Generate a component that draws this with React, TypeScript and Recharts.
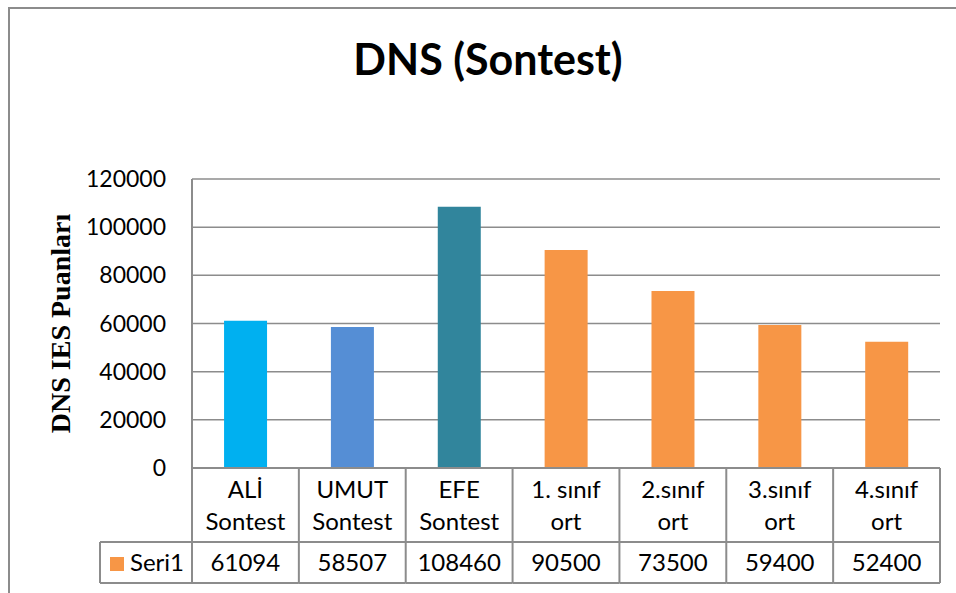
import { BarChart, Bar, XAxis, YAxis, CartesianGrid, Cell, Label } from 'recharts'

const labelTop = ['ALİ', 'UMUT', 'EFE', '1. sınıf', '2.sınıf', '3.sınıf', '4.sınıf']
const labelBottom = ['Sontest', 'Sontest', 'Sontest', 'ort', 'ort', 'ort', 'ort']
const scores = [61094, 58507, 108460, 90500, 73500, 59400, 52400]
const barColors = ['#00B0F0', '#558ED5', '#31859C', '#F79646', '#F79646', '#F79646', '#F79646']
const yTicks = [0, 20000, 40000, 60000, 80000, 100000, 120000]
const seriesName = 'Seri1'
const legendColor = '#F79646'

const data = labelTop.map((name, i) => ({ name, value: scores[i] }))

const W = 956
const H = 593
const M = { top: 179, right: 16, bottom: 10, left: 100 }
const Y_W = 92
const X_H = 115
const PLOT_W = W - M.left - M.right - Y_W
const LINE = '#8c8c8c'
const FONT = 'Lato, "Open Sans", sans-serif'

// the data table under the plot is drawn from the x axis ticks
const TableTick = (props: any) => {
  const { x, y, payload } = props
  const i = payload.index ?? props.index
  const bw = PLOT_W / labelTop.length
  const left = x - bw / 2
  const right = x + bw / 2
  return (
    <g fontFamily={FONT} fontSize={24} fill="#000">
      {i === 0 && <line x1={left} y1={y} x2={left} y2={y + 115} stroke={LINE} strokeWidth={2} />}
      <line x1={right} y1={y} x2={right} y2={y + 115} stroke={LINE} strokeWidth={2} />
      <line x1={left} y1={y + 74} x2={right} y2={y + 74} stroke={LINE} strokeWidth={2} />
      <line x1={left} y1={y + 115} x2={right} y2={y + 115} stroke={LINE} strokeWidth={2} />
      <text x={x} y={y + 30} textAnchor="middle">{labelTop[i]}</text>
      <text x={x} y={y + 62} textAnchor="middle">{labelBottom[i]}</text>
      <text x={x} y={y + 103} textAnchor="middle">{scores[i]}</text>
      {i === 0 && (
        <g>
          <line x1={left - 92} y1={y + 74} x2={left} y2={y + 74} stroke={LINE} strokeWidth={2} />
          <line x1={left - 92} y1={y + 115} x2={left} y2={y + 115} stroke={LINE} strokeWidth={2} />
          <line x1={left - 92} y1={y + 74} x2={left - 92} y2={y + 115} stroke={LINE} strokeWidth={2} />
          <rect x={left - 82} y={y + 89} width={14} height={14} fill={legendColor} />
          <text x={left - 62} y={y + 103} textAnchor="start">{seriesName}</text>
        </g>
      )}
    </g>
  )
}

const YTitle = (props: any) => {
  const { viewBox } = props
  const cx = viewBox.x - 40
  const cy = viewBox.y + viewBox.height / 2
  return (
    <text
      x={cx}
      y={cy}
      transform={`rotate(-90 ${cx} ${cy})`}
      textAnchor="middle"
      dominantBaseline="central"
      fontFamily='"Liberation Serif", "Times New Roman", serif'
      fontWeight="bold"
      fontSize={28}
      fill="#000"
    >
      DNS IES Puanları
    </text>
  )
}

export default function App() {
  return (
    <div style={{ position: 'absolute', left: 0, top: 0, width: W, height: H, background: '#fff', overflow: 'hidden' }}>
      <div
        style={{
          position: 'absolute',
          left: 8,
          top: 7,
          width: W,
          height: H,
          borderLeft: `2px solid ${LINE}`,
          borderTop: `2px solid ${LINE}`,
        }}
      />
      <div
        style={{
          position: 'absolute',
          left: 0,
          top: 33,
          width: 976,
          textAlign: 'center',
          fontFamily: FONT,
          fontWeight: 'bold',
          fontSize: 43,
          lineHeight: '52px',
          color: '#000',
        }}
      >
        DNS (Sontest)
      </div>
      <BarChart width={W} height={H} data={data} margin={M} barCategoryGap="30%">
        <CartesianGrid vertical={false} stroke={LINE} strokeWidth={1.5} />
        <XAxis
          dataKey="name"
          height={X_H}
          interval={0}
          tickLine={false}
          tickSize={0}
          tickMargin={0}
          axisLine={{ stroke: LINE, strokeWidth: 2 }}
          tick={<TableTick />}
        />
        <YAxis
          width={Y_W}
          domain={[0, 120000]}
          ticks={yTicks}
          tickLine={false}
          tickSize={0}
          tickMargin={26}
          axisLine={{ stroke: LINE, strokeWidth: 2 }}
          tick={{ fontFamily: FONT, fontSize: 23, fill: '#000' }}
        >
          <Label content={<YTitle />} />
        </YAxis>
        <Bar dataKey="value" isAnimationActive={false}>
          {data.map((d, i) => (
            <Cell key={d.name} fill={barColors[i]} />
          ))}
        </Bar>
      </BarChart>
    </div>
  )
}
